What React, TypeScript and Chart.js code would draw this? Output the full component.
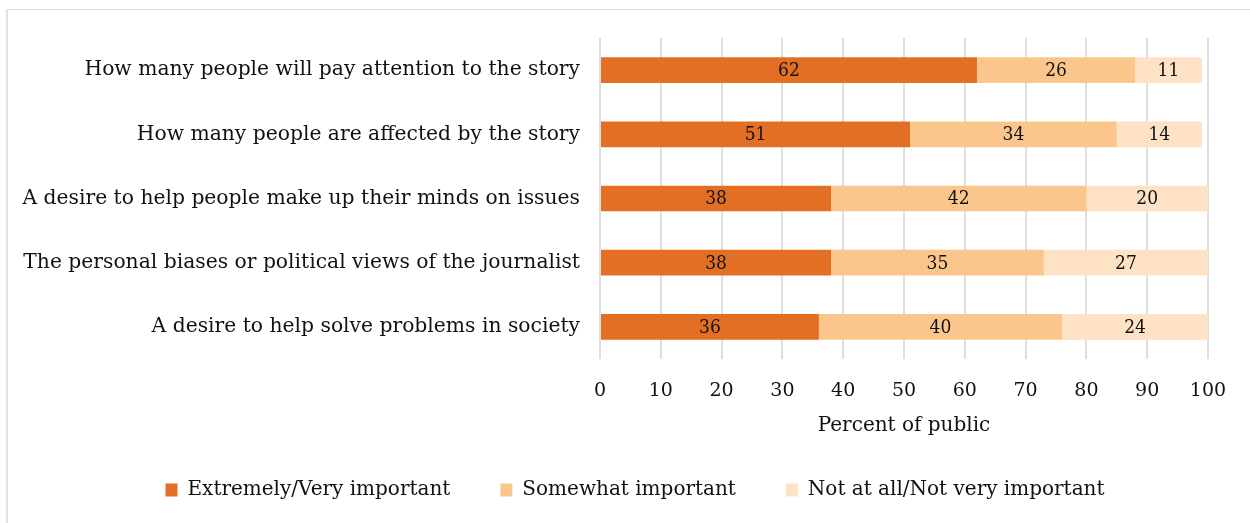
import React, { useEffect, useRef } from "react";
import { Chart, registerables } from "chart.js";

Chart.register(...registerables);

const categories = [
  "How many people will pay attention to the story",
  "How many people are affected by the story",
  "A desire to help people make up their minds on issues",
  "The personal biases or political views of the journalist",
  "A desire to help solve problems in society",
];
const seriesNames = [
  "Extremely/Very important",
  "Somewhat important",
  "Not at all/Not very important",
];
const veryImportant = [62, 51, 38, 38, 36];
const somewhatImportant = [26, 34, 42, 35, 40];
const notImportant = [11, 14, 20, 27, 24];
const seriesColors = ["#E36F25", "#FBC68B", "#FDE2C5"];
const xTicks = [0, 10, 20, 30, 40, 50, 60, 70, 80, 90, 100];
const axisTitle = "Percent of public";

const FONT = "'DejaVu Serif', 'Liberation Serif', serif";
const FONT_COND = "'DejaVu Serif Condensed', 'DejaVu Serif', serif";

const barLabels = {
  id: "barLabels",
  afterLayout(chart: any) {
    if (chart.legend) chart.legend.left = 62;
  },
  afterDatasetsDraw(chart: any) {
    const ctx = chart.ctx;
    ctx.save();
    ctx.font = `19px ${FONT_COND}`;
    ctx.fillStyle = "#111";
    ctx.textAlign = "center";
    ctx.textBaseline = "middle";
    chart.data.datasets.forEach((ds: any, i: number) => {
      const meta = chart.getDatasetMeta(i);
      meta.data.forEach((el: any, j: number) => {
        const { x, base, y } = el.getProps(["x", "base", "y"], true);
        ctx.fillText(String(ds.data[j]), (x + base) / 2, y + 1);
      });
    });
    ctx.restore();
  },
};

export default function App() {
  const ref = useRef<HTMLCanvasElement>(null);
  useEffect(() => {
    if (!ref.current) return;
    const data = [veryImportant, somewhatImportant, notImportant];
    const chart = new Chart(ref.current, {
      type: "bar",
      data: {
        labels: categories,
        datasets: seriesNames.map((name, i) => ({
          label: name,
          data: data[i],
          backgroundColor: seriesColors[i],
          borderWidth: 0,
          barPercentage: 0.4,
          categoryPercentage: 1,
        })),
      },
      options: {
        indexAxis: "y",
        responsive: false,
        animation: false,
        devicePixelRatio: 1,
        layout: { padding: { left: 0, right: 42, top: 38, bottom: 0 } },
        plugins: {
          tooltip: { enabled: false },
          legend: {
            position: "bottom",
            labels: {
              boxWidth: 12,
              boxHeight: 13,
              padding: 50,
              color: "#111",
              font: { family: FONT, size: 20 },
            },
          },
        },
        scales: {
          x: {
            stacked: true,
            min: 0,
            max: 100,
            afterBuildTicks: (scale: any) => {
              scale.ticks = xTicks.map((v) => ({ value: v }));
            },
            afterFit: (scale: any) => {
              scale.height = 71;
            },
            grid: { color: "#dedede", lineWidth: 2, drawTicks: false },
            border: { display: false },
            ticks: {
              padding: 21,
              color: "#111",
              font: { family: FONT, size: 19 },
            },
            title: {
              display: true,
              text: axisTitle,
              color: "#111",
              font: { family: FONT, size: 20, lineHeight: 1.2 },
              padding: { top: 0, bottom: -8 },
            },
          },
          y: {
            stacked: true,
            afterFit: (scale: any) => {
              scale.width = 600;
            },
            grid: { display: false, drawTicks: false },
            border: { display: false },
            ticks: {
              padding: 20,
              color: "#111",
              font: { family: FONT, size: 20.3 },
            },
          },
        },
      },
      plugins: [barLabels],
    });
    return () => chart.destroy();
  }, []);

  return (
    <div
      style={{
        position: "absolute",
        left: 0,
        top: 0,
        width: 1250,
        height: 523,
        overflow: "hidden",
        background: "#fff",
      }}
    >
      <div
        style={{
          position: "absolute",
          left: 6,
          top: 9,
          width: 1244,
          height: 514,
          boxSizing: "border-box",
          borderTop: "1px solid #dcdcdc",
          borderLeft: "2px solid #e2e2e2",
        }}
      />
      <canvas
        ref={ref}
        width={1250}
        height={510}
        style={{ position: "absolute", left: 0, top: 0, width: 1250, height: 510 }}
      />
    </div>
  );
}
